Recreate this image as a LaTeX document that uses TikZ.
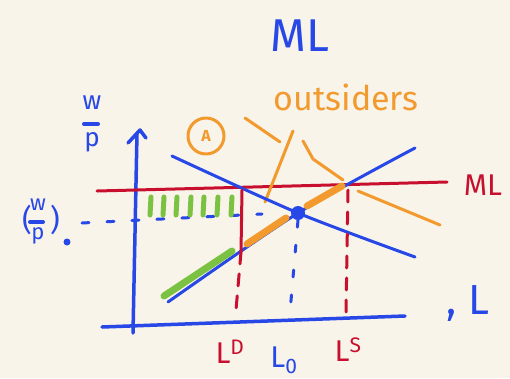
\documentclass[tikz,border=0pt]{standalone}
\usepackage{fontspec}
\setmainfont{Fira Sans}
\begin{document}
\begin{tikzpicture}[x=1pt,y=-1pt,line cap=round,line join=round,
  blueink/.style={draw=inkblue,line width=3.5pt},
  redink/.style={draw=inkred,line width=3pt},
  orangeink/.style={draw=inkorange,line width=3pt},
  thickorange/.style={draw=inkorange,line width=7pt},
  thickgreen/.style={draw=inkgreen,line width=7pt},
  hatch/.style={draw=inkgreen,line width=5pt},
  reddash/.style={draw=inkred,line width=3pt,dash pattern=on 12pt off 10pt},
  bluedash/.style={draw=inkblue,line width=3pt,dash pattern=on 7pt off 18pt},
  fracbar/.style={draw=inkblue,line width=4pt},
  lbl/.style={inner sep=0pt,font=\fontsize{#1}{#1}\selectfont}]
\definecolor{inkblue}{HTML}{2747E6}
\definecolor{inkred}{HTML}{C8102E}
\definecolor{inkorange}{HTML}{F29A2E}
\definecolor{inkgreen}{HTML}{7CC242}
\definecolor{paper}{HTML}{F8F4EA}
\fill[paper] (0,0) rectangle (510,378);
\useasboundingbox (0,0) rectangle (510,378);
% axes
\coordinate (yb) at (133,333);
\coordinate (yt) at (137,133);
\coordinate (al) at (128,143);
\coordinate (ap) at (140,130);
\coordinate (ar) at (146,138);
\coordinate (xl) at (102,327);
\coordinate (xr) at (405,316);
\draw[blueink] (yb) -- (yt);
\draw[blueink] (al) -- (ap) -- (ar);
\draw[blueink] (xl) -- (xr);
% ML line
\coordinate (ml1) at (97,191);
\coordinate (ml2) at (447,182);
\draw[redink] (ml1) -- (ml2);
% orange outsider lines
\coordinate (o1) at (245,118);
\coordinate (o2) at (280,142);
\draw[orangeink] (o1) -- (o2);
\coordinate (o3) at (293,131);
\coordinate (o4) at (265,202);
\draw[orangeink] (o3) -- (o4);
\coordinate (o5) at (303,141);
\coordinate (o6) at (313,159);
\coordinate (o7) at (343,180);
\coordinate (o8) at (358,191);
\coordinate (o9) at (440,225);
\draw[orangeink] (o5) -- (o6) -- (o7);
\draw[orangeink] (o8) -- (o9);
% demand and supply
\coordinate (eq) at (298,213);
\coordinate (d1) at (172,156);
\coordinate (d2) at (415,257);
\coordinate (s1) at (168,302);
\coordinate (s2) at (415,148);
\draw[blueink,line width=3pt] plot[smooth] coordinates {(d1) (eq) (d2)};
\draw[blueink,line width=3pt] plot[smooth] coordinates {(s1) (eq) (s2)};
% thick segments on supply
\coordinate (g1) at (164,296);
\coordinate (g2) at (232,251);
\draw[thickgreen] (g1) -- (g2);
\coordinate (t1) at (247,244);
\coordinate (t2) at (286,218);
\draw[thickorange] (t1) -- (t2);
\coordinate (t3) at (307,206);
\coordinate (t4) at (342,186);
\draw[thickorange] (t3) -- (t4);
% equilibrium dot
\node[circle,fill=inkblue,minimum size=14pt,inner sep=0pt] (dot) at (eq) {};
% dashed helpers
\coordinate (hl) at (82,223);
\coordinate (hr) at (262,214);
\draw[bluedash] (hl) -- (hr);
\coordinate (lo) at (290,312);
\draw[bluedash] (dot.south) -- (lo);
\coordinate (ld1) at (242,190);
\coordinate (ld2) at (241,252);
\coordinate (ld3) at (236,310);
\draw[redink] (ld1) -- (ld2);
\draw[reddash] (ld2) -- (ld3);
\coordinate (ls1) at (348,190);
\coordinate (ls2) at (346,312);
\draw[reddash] (ls1) -- (ls2);
% green hatch
\foreach \x in {151,164,177,191,204,218,232}
  \draw[hatch] (\x,197) -- (\x-1,215);
% circled A
\node[circle,draw=inkorange,line width=3pt,minimum size=36pt,inner sep=0pt,text=inkorange,font=\bfseries\fontsize{16}{16}\selectfont] (circA) at (206,136) {A};
% labels
\node[lbl=46,text=inkblue] (mltop) at (300,36) {ML};
\node[lbl=34,text=inkorange] (outs) at (346,97) {outsiders};
\node[lbl=30,text=inkred] (mlred) at (483,185) {ML};
% w/p at top of vertical axis
\node[lbl=26,text=inkblue] (wtop) at (92,103) {w};
\coordinate (bt1) at (84,124);
\coordinate (bt2) at (98,124);
\draw[fracbar] (bt1) -- (bt2);
\node[lbl=26,text=inkblue] (ptop) at (92,142) {p};
% (w/p)_0
\node[lbl=30,text=inkblue] (lpar) at (27,220) {(};
\node[lbl=22,text=inkblue] (w0) at (38,205) {w};
\coordinate (b01) at (30,222);
\coordinate (b02) at (43,222);
\draw[fracbar] (b01) -- (b02);
\node[lbl=22,text=inkblue] (p0) at (38,236) {p};
\node[lbl=30,text=inkblue] (rpar) at (55,220) {)};
\node[circle,fill=inkblue,minimum size=7pt,inner sep=0pt] (zero) at (67,242) {};
% axis labels
\node[lbl=42,text=inkblue] (lax) at (468,304) {, L};
\node[lbl=30,text=inkred] (lD) at (230,352) {L\textsuperscript{D}};
\node[lbl=30,text=inkblue] (l0) at (284,360) {L\textsubscript{0}};
\node[lbl=30,text=inkred] (lS) at (348,350) {L\textsuperscript{S}};
\end{tikzpicture}
\end{document}
